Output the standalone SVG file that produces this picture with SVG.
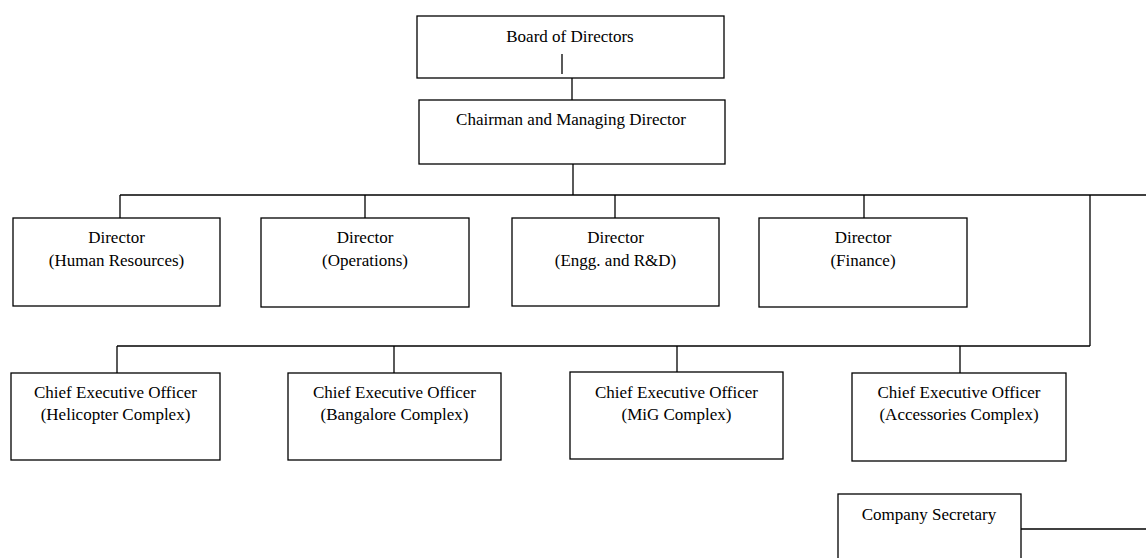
<svg xmlns="http://www.w3.org/2000/svg" width="1146" height="558" viewBox="0 0 1146 558">
<style>
.box{fill:#fff;stroke:#000;stroke-width:1.3}
.ln{fill:none;stroke:#000;stroke-width:1.3}
text{font-family:"Liberation Serif","Times New Roman",serif;font-size:17px;fill:#000;text-anchor:middle}
</style>
<rect width="1146" height="558" fill="#fff"/>
<g id="connectors">
<line class="ln" x1="572" y1="78" x2="572" y2="100"/>
<line class="ln" x1="573" y1="164" x2="573" y2="195"/>
<line class="ln" x1="120" y1="195" x2="1146" y2="195"/>
<line class="ln" x1="120" y1="195" x2="120" y2="218"/>
<line class="ln" x1="365" y1="195" x2="365" y2="218"/>
<line class="ln" x1="615" y1="195" x2="615" y2="218"/>
<line class="ln" x1="864" y1="195" x2="864" y2="218"/>
<line class="ln" x1="1090" y1="195" x2="1090" y2="346"/>
<line class="ln" x1="117" y1="346" x2="1090" y2="346"/>
<line class="ln" x1="117" y1="346" x2="117" y2="373"/>
<line class="ln" x1="394" y1="346" x2="394" y2="373"/>
<line class="ln" x1="677" y1="346" x2="677" y2="372"/>
<line class="ln" x1="960" y1="346" x2="960" y2="373"/>
<line class="ln" x1="1021" y1="529" x2="1146" y2="529"/>
</g>
<g id="board">
<rect class="box" x="417" y="16" width="307" height="62"/>
<text x="570" y="42">Board of Directors</text>
<line class="ln" x1="562" y1="54" x2="562" y2="74"/>
</g>
<g id="cmd">
<rect class="box" x="419" y="100" width="306" height="64"/>
<text x="571" y="125">Chairman and Managing Director</text>
</g>
<g id="dir-hr">
<rect class="box" x="13" y="218" width="207" height="88"/>
<text x="116.5" y="243">Director</text>
<text x="116.5" y="266">(Human Resources)</text>
</g>
<g id="dir-ops">
<rect class="box" x="261" y="218" width="208" height="89"/>
<text x="365" y="243">Director</text>
<text x="365" y="266">(Operations)</text>
</g>
<g id="dir-engg">
<rect class="box" x="512" y="218" width="207" height="88"/>
<text x="615.5" y="243">Director</text>
<text x="615.5" y="266">(Engg. and R&amp;D)</text>
</g>
<g id="dir-fin">
<rect class="box" x="759" y="218" width="208" height="89"/>
<text x="863" y="243">Director</text>
<text x="863" y="266">(Finance)</text>
</g>
<g id="ceo-heli">
<rect class="box" x="11" y="373" width="209" height="87"/>
<text x="115.5" y="398">Chief Executive Officer</text>
<text x="115.5" y="420">(Helicopter Complex)</text>
</g>
<g id="ceo-blr">
<rect class="box" x="288" y="373" width="213" height="87"/>
<text x="394.5" y="398">Chief Executive Officer</text>
<text x="394.5" y="420">(Bangalore Complex)</text>
</g>
<g id="ceo-mig">
<rect class="box" x="570" y="372" width="213" height="87"/>
<text x="676.5" y="398">Chief Executive Officer</text>
<text x="676.5" y="420">(MiG Complex)</text>
</g>
<g id="ceo-acc">
<rect class="box" x="852" y="373" width="214" height="88"/>
<text x="959" y="398">Chief Executive Officer</text>
<text x="959" y="420">(Accessories Complex)</text>
</g>
<g id="secretary">
<rect class="box" x="838" y="494" width="183" height="80"/>
<text x="929" y="520">Company Secretary</text>
</g>
</svg>
